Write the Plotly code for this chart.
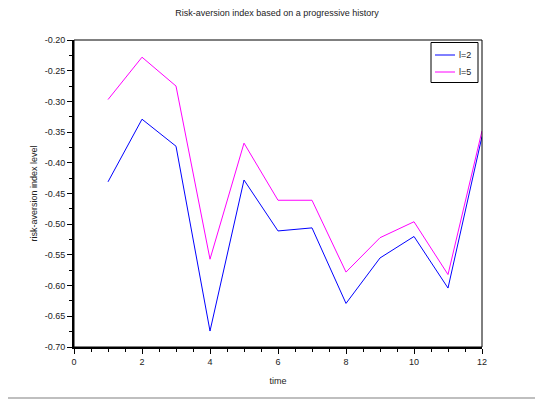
import plotly.graph_objects as go

time = [1, 2, 3, 4, 5, 6, 7, 8, 9, 10, 11, 12]
l2_values = [-0.431, -0.329, -0.373, -0.674, -0.428, -0.511, -0.506, -0.629, -0.555, -0.520, -0.604, -0.357]
l5_values = [-0.297, -0.228, -0.275, -0.557, -0.368, -0.461, -0.461, -0.578, -0.522, -0.496, -0.582, -0.348]
series_names = ["l=2", "l=5"]
series_colors = ["#0000ff", "#ff00ff"]
y_tick_values = [-0.70, -0.65, -0.60, -0.55, -0.50, -0.45, -0.40, -0.35, -0.30, -0.25, -0.20]
y_tick_labels = ["%.2f" % v for v in y_tick_values]
x_tick_values = [0, 2, 4, 6, 8, 10, 12]
x_tick_labels = [str(v) for v in x_tick_values]
title_text = "Risk-aversion index based on a progressive history"
x_title = "time"
y_title = "risk-aversion index level"

FONT = "Liberation Sans, Arial, sans-serif"
OFF = 8  # default page body margin
W, H = 543 - OFF, 402 - OFF
# plot area in page pixels: x 74..482, y 40..347
L, R, T, B = 74 - OFF, 543 - 482, 40 - OFF, 402 - 347
PW, PH = W - L - R, H - T - B


def px_to_paper_x(px):
    return (px - OFF - L) / PW


def px_to_paper_y(py):
    return (H - B - (py - OFF)) / PH


fig = go.Figure()
for name, vals, col in zip(series_names, [l2_values, l5_values], series_colors):
    fig.add_trace(go.Scatter(x=time, y=vals, mode="lines", name=name,
                             line=dict(color=col, width=1), showlegend=False))

shapes = [
    dict(type="rect", xref="paper", yref="paper", x0=0, x1=1, y0=0, y1=1,
         line=dict(color="black", width=1), layer="above"),
    dict(type="line", xref="paper", yref="paper",
         x0=px_to_paper_x(8), x1=px_to_paper_x(545), y0=px_to_paper_y(398), y1=px_to_paper_y(398),
         line=dict(color="#aaaaaa", width=1.5)),
    # legend box
    dict(type="rect", xref="paper", yref="paper",
         x0=px_to_paper_x(431), x1=px_to_paper_x(478), y0=px_to_paper_y(82.5), y1=px_to_paper_y(42.5),
         line=dict(color="black", width=1), fillcolor="white", layer="above"),
]
annotations = []
legend_rows = [55, 72]
for name, col, ry in zip(series_names, series_colors, legend_rows):
    shapes.append(dict(type="line", xref="paper", yref="paper",
                       x0=px_to_paper_x(435), x1=px_to_paper_x(455),
                       y0=px_to_paper_y(ry), y1=px_to_paper_y(ry),
                       line=dict(color=col, width=1), layer="above"))
    annotations.append(dict(text=name, xref="paper", yref="paper",
                            x=px_to_paper_x(457), y=px_to_paper_y(ry),
                            xanchor="left", yanchor="middle", showarrow=False,
                            font=dict(family=FONT, size=9, color="#222")))

fig.update_layout(
    width=W, height=H,
    margin=dict(l=L, r=R, t=T, b=B),
    paper_bgcolor="white", plot_bgcolor="white",
    font=dict(family=FONT, size=9, color="#222"),
    title=dict(text=title_text, x=(277 - OFF) / W, xanchor="center", xref="container",
               y=1 - (13 - OFF) / H, yanchor="middle", yref="container", automargin=False,
               font=dict(family=FONT, size=9, color="#222")),
    showlegend=False,
    xaxis=dict(range=[0, 12], tickmode="array", tickvals=x_tick_values, ticktext=x_tick_labels,
               showgrid=False, zeroline=False, automargin=False,
               showline=True, linecolor="black", linewidth=2,
               ticks="outside", ticklen=5, tickwidth=1, tickcolor="black",
               minor=dict(dtick=0.5, tick0=0, ticks="outside", ticklen=3, tickcolor="black", showgrid=False),
               title=dict(text=x_title, standoff=12, font=dict(family=FONT, size=9, color="#222"))),
    yaxis=dict(range=[-0.70, -0.20], tickmode="array", tickvals=y_tick_values, ticktext=y_tick_labels,
               showgrid=False, zeroline=False, automargin=False,
               showline=True, linecolor="black", linewidth=2,
               ticks="outside", ticklen=5, tickwidth=1, tickcolor="black",
               minor=dict(dtick=0.025, tick0=-0.70, ticks="outside", ticklen=3, tickcolor="black", showgrid=False),
               title=dict(text=y_title, standoff=6, font=dict(family=FONT, size=9, color="#222"))),
    shapes=shapes,
    annotations=annotations,
)

fig.write_html("out.html")
